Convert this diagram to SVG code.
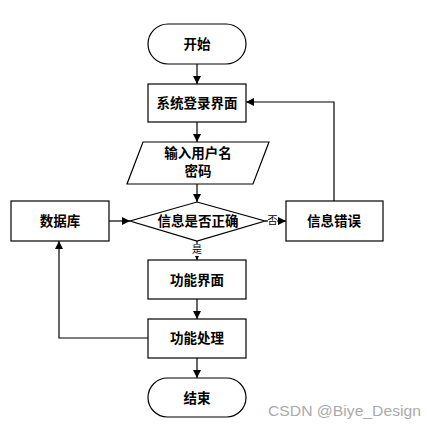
<svg xmlns="http://www.w3.org/2000/svg" width="435" height="431" viewBox="0 0 435 431">
<style>
.s{fill:#fff;stroke:#000;stroke-width:1.2}
.t{font-family:"Liberation Serif","Noto Sans CJK SC",serif;font-size:13.5px;font-weight:bold;text-anchor:middle;dominant-baseline:central;fill:#000}
.l{font-family:"Liberation Serif","Noto Sans CJK SC",serif;font-size:10px;text-anchor:middle;dominant-baseline:central;fill:#000}
.c{fill:none;stroke:#000;stroke-width:1.2}
</style>
<defs>
<marker id="a" viewBox="0 0 10 10" refX="10" refY="5" markerWidth="8" markerHeight="8" markerUnits="userSpaceOnUse" orient="auto">
<path d="M0,0 L10,5 L0,10 z" fill="#000"/>
</marker>
</defs>
<rect width="435" height="431" fill="#fff"/>
<g id="connectors">
<line class="c" x1="197" y1="64" x2="197" y2="84" marker-end="url(#a)"/>
<line class="c" x1="197" y1="122" x2="197" y2="142" marker-end="url(#a)"/>
<line class="c" x1="197" y1="184" x2="197" y2="202" marker-end="url(#a)"/>
<line class="c" x1="109" y1="221" x2="130" y2="221" marker-end="url(#a)"/>
<line class="c" x1="265" y1="221" x2="286" y2="221" marker-end="url(#a)"/>
<polyline class="c" points="334,201 334,102 246,102" marker-end="url(#a)"/>
<line class="c" x1="197" y1="241" x2="197" y2="260" marker-end="url(#a)"/>
<line class="c" x1="197" y1="299" x2="197" y2="319" marker-end="url(#a)"/>
<line class="c" x1="197" y1="358" x2="197" y2="378" marker-end="url(#a)"/>
<polyline class="c" points="148,338 59,338 59,241" marker-end="url(#a)"/>
<rect x="268" y="214" width="9" height="13" fill="#fff"/>
<text class="l" x="272.5" y="220">否</text>
<rect x="192" y="244" width="10" height="12" fill="#fff"/>
<text class="l" x="197" y="249">是</text>
</g>
<g id="start"><rect class="s" x="148" y="24" width="98" height="40" rx="20"/><text class="t" x="197" y="44">开始</text></g>
<g id="login"><rect class="s" x="148" y="84" width="98" height="38"/><text class="t" x="197" y="103">系统登录界面</text></g>
<g id="input"><polygon class="s" points="143,142 269,142 253,184 127,184"/><text class="t" x="198" y="153">输入用户名</text><text class="t" x="198" y="171">密码</text></g>
<g id="check"><polygon class="s" points="197,202 265,221 197,241 130,221"/><text class="t" x="198" y="221">信息是否正确</text></g>
<g id="db"><rect class="s" x="11" y="201" width="98" height="40"/><text class="t" x="60" y="221">数据库</text></g>
<g id="err"><rect class="s" x="286" y="201" width="97" height="40"/><text class="t" x="334" y="221">信息错误</text></g>
<g id="func"><rect class="s" x="148" y="260" width="98" height="39"/><text class="t" x="197" y="280">功能界面</text></g>
<g id="proc"><rect class="s" x="148" y="319" width="98" height="39"/><text class="t" x="197" y="338">功能处理</text></g>
<g id="end"><rect class="s" x="148" y="378" width="98" height="39" rx="19.5"/><text class="t" x="197" y="398">结束</text></g>
<text x="268" y="416" font-family="Liberation Sans,Arial,sans-serif" font-size="15" textLength="153" lengthAdjust="spacingAndGlyphs" fill="#aaa">CSDN @Biye_Design</text>
</svg>
